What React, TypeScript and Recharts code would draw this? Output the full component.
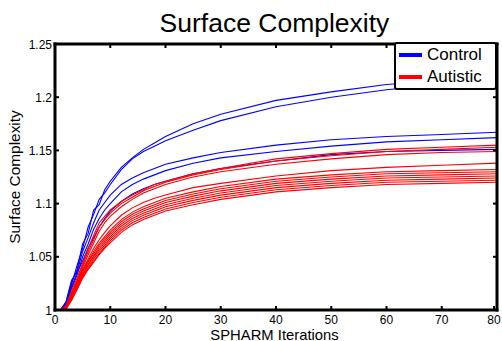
import { Legend, Line, LineChart, XAxis, YAxis } from "recharts";

const iterations = [1, 2, 3, 4, 5, 6, 7, 8, 9, 10, 12, 14, 16, 18, 20, 25, 30, 40, 50, 60, 70, 80];

// control subjects (blue)
const control1 = [1.0, 1.007, 1.026, 1.038, 1.062, 1.072, 1.094, 1.099, 1.113, 1.121, 1.134, 1.143, 1.151, 1.157, 1.163, 1.175, 1.184, 1.197, 1.205, 1.212, 1.216, 1.22];
const control2 = [1.0, 1.006, 1.024, 1.042, 1.058, 1.078, 1.09, 1.104, 1.11, 1.118, 1.132, 1.142, 1.149, 1.154, 1.159, 1.169, 1.178, 1.191, 1.2, 1.207, 1.212, 1.216];
const control3 = [1.0, 1.008, 1.028, 1.036, 1.055, 1.068, 1.082, 1.094, 1.101, 1.108, 1.118, 1.124, 1.129, 1.133, 1.137, 1.143, 1.148, 1.155, 1.16, 1.163, 1.165, 1.167];
const control4 = [1.0, 1.005, 1.02, 1.033, 1.05, 1.062, 1.076, 1.086, 1.094, 1.1, 1.111, 1.118, 1.123, 1.127, 1.131, 1.138, 1.143, 1.149, 1.154, 1.158, 1.16, 1.162];
const control5 = [1.0, 1.006, 1.022, 1.035, 1.046, 1.058, 1.068, 1.078, 1.086, 1.093, 1.102, 1.109, 1.114, 1.118, 1.121, 1.128, 1.133, 1.14, 1.146, 1.149, 1.15, 1.151];

// autistic subjects (red)
const autistic1 = [1.0, 1.004, 1.018, 1.03, 1.044, 1.058, 1.07, 1.082, 1.088, 1.094, 1.102, 1.108, 1.113, 1.118, 1.121, 1.128, 1.133, 1.142, 1.147, 1.151, 1.153, 1.155];
const autistic2 = [1.0, 1.003, 1.016, 1.028, 1.042, 1.055, 1.066, 1.078, 1.085, 1.091, 1.1, 1.106, 1.112, 1.116, 1.12, 1.127, 1.132, 1.14, 1.145, 1.149, 1.151, 1.153];
const autistic3 = [1.0, 1.003, 1.015, 1.026, 1.04, 1.052, 1.063, 1.074, 1.082, 1.088, 1.097, 1.104, 1.11, 1.114, 1.118, 1.125, 1.13, 1.137, 1.142, 1.146, 1.148, 1.149];
const autistic4 = [1.0, 1.003, 1.015, 1.027, 1.038, 1.048, 1.058, 1.066, 1.073, 1.079, 1.089, 1.096, 1.101, 1.105, 1.108, 1.115, 1.119, 1.126, 1.131, 1.134, 1.136, 1.138];
const autistic5 = [1.0, 1.002, 1.014, 1.025, 1.037, 1.046, 1.055, 1.063, 1.069, 1.075, 1.085, 1.092, 1.097, 1.101, 1.105, 1.111, 1.116, 1.123, 1.127, 1.13, 1.131, 1.132];
const autistic6 = [1.0, 1.002, 1.012, 1.024, 1.036, 1.045, 1.053, 1.061, 1.067, 1.073, 1.083, 1.09, 1.095, 1.099, 1.103, 1.109, 1.114, 1.121, 1.125, 1.128, 1.129, 1.13];
const autistic7 = [1.0, 1.002, 1.013, 1.022, 1.034, 1.043, 1.051, 1.059, 1.065, 1.071, 1.081, 1.088, 1.093, 1.097, 1.101, 1.107, 1.112, 1.119, 1.123, 1.126, 1.127, 1.128];
const autistic8 = [1.0, 1.001, 1.011, 1.023, 1.033, 1.042, 1.05, 1.057, 1.063, 1.069, 1.079, 1.086, 1.091, 1.095, 1.099, 1.105, 1.11, 1.117, 1.121, 1.124, 1.125, 1.126];
const autistic9 = [1.0, 1.001, 1.01, 1.021, 1.032, 1.04, 1.048, 1.055, 1.061, 1.067, 1.077, 1.084, 1.089, 1.093, 1.097, 1.103, 1.108, 1.115, 1.119, 1.122, 1.123, 1.124];
const autistic10 = [1.0, 1.002, 1.012, 1.02, 1.031, 1.039, 1.046, 1.053, 1.059, 1.065, 1.075, 1.082, 1.087, 1.091, 1.095, 1.101, 1.106, 1.113, 1.117, 1.12, 1.121, 1.122];
const autistic11 = [1.0, 1.001, 1.009, 1.019, 1.03, 1.038, 1.045, 1.052, 1.058, 1.063, 1.073, 1.08, 1.085, 1.089, 1.093, 1.099, 1.104, 1.111, 1.115, 1.118, 1.119, 1.12];

const controlSeries = [control1, control2, control3, control4, control5];
const autisticSeries = [autistic1, autistic2, autistic3, autistic4, autistic5, autistic6, autistic7, autistic8, autistic9, autistic10, autistic11];

const xTicks = [0, 10, 20, 30, 40, 50, 60, 70, 80];
const yTicks = [1, 1.05, 1.1, 1.15, 1.2, 1.25];

const legendItems = [
  { label: "Control", color: "#0000ff" },
  { label: "Autistic", color: "#ff0000" }
];

const FONT = "'Liberation Sans', Arial, sans-serif";

const rows = iterations.map((x, i) => {
  const row: Record<string, number> = { x };
  controlSeries.forEach((s, k) => (row[`c${k}`] = s[i]));
  autisticSeries.forEach((s, k) => (row[`a${k}`] = s[i]));
  return row;
});

const axisLine = { stroke: "#000", strokeWidth: 3, strokeLinecap: "square" as const };

function BottomTick({ x, y, payload }: any) {
  return (
    <g>
      <line x1={x} x2={x} y1={y} y2={y - 4} stroke="#000" strokeWidth={2} />
      <text x={x} y={y + 13.5} textAnchor="middle" fontSize={12} fontFamily={FONT} fill="#000">
        {payload.value}
      </text>
    </g>
  );
}

function TopTick({ x, y }: any) {
  return <line x1={x} x2={x} y1={y} y2={y + 4} stroke="#000" strokeWidth={2} />;
}

function LeftTick({ x, y, payload }: any) {
  return (
    <g>
      <line x1={x} x2={x + 4} y1={y} y2={y} stroke="#000" strokeWidth={2} />
      <text x={x - 3} y={y + 4.5} textAnchor="end" fontSize={12} fontFamily={FONT} fill="#000">
        {String(payload.value)}
      </text>
    </g>
  );
}

function RightTick({ x, y }: any) {
  return <line x1={x} x2={x - 4} y1={y} y2={y} stroke="#000" strokeWidth={2} />;
}

function LegendBox() {
  return (
    <div
      style={{
        boxSizing: "border-box",
        width: 103,
        height: 48,
        border: "2px solid #000",
        borderRadius: 3,
        background: "#fff",
        fontFamily: FONT,
        fontSize: 17,
        color: "#000"
      }}
    >
      {legendItems.map((item) => (
        <div key={item.label} style={{ height: 22, display: "flex", alignItems: "center" }}>
          <span style={{ display: "inline-block", width: 23, height: 4, marginLeft: 3, marginRight: 5, background: item.color }} />
          <span style={{ lineHeight: "22px" }}>{item.label}</span>
        </div>
      ))}
    </div>
  );
}

export default function App() {
  return (
    <div style={{ position: "absolute", left: 0, top: 0, width: 502, height: 341, background: "#fff" }}>
      <LineChart width={502} height={341} data={rows} margin={{ top: 9, right: 4, bottom: 6, left: 10 }}>
        <XAxis
          dataKey="x"
          type="number"
          domain={[0, 80]}
          ticks={xTicks}
          height={25}
          tickSize={0}
          tickMargin={0}
          tickLine={false}
          axisLine={axisLine}
          tick={<BottomTick />}
          label={{
            content: ({ viewBox }: any) => (
              <text x={viewBox.x + viewBox.width / 2 - 1.5} y={viewBox.y + 29.5} textAnchor="middle" fontSize={14.8} fontFamily={FONT} fill="#000">
                SPHARM Iterations
              </text>
            )
          }}
        />
        <XAxis
          xAxisId="top"
          orientation="top"
          dataKey="x"
          type="number"
          domain={[0, 80]}
          allowDataOverflow
          ticks={xTicks}
          height={35}
          tickSize={0}
          tickMargin={0}
          tickLine={false}
          axisLine={axisLine}
          tick={<TopTick />}
          label={{
            content: ({ viewBox }: any) => (
              <text x={viewBox.x + viewBox.width / 2 - 1.5} y={viewBox.y + viewBox.height - 12} textAnchor="middle" fontSize={26.5} fontFamily={FONT} fill="#000">
                Surface Complexity
              </text>
            )
          }}
        />
        <YAxis
          type="number"
          domain={[1, 1.25]}
          allowDataOverflow
          ticks={yTicks}
          width={45}
          tickSize={0}
          tickMargin={0}
          tickLine={false}
          axisLine={axisLine}
          tick={<LeftTick />}
          label={{
            content: ({ viewBox }: any) => {
              const cx = viewBox.x + viewBox.width - 35.5;
              const cy = viewBox.y + viewBox.height / 2;
              return (
                <text x={cx} y={cy} transform={`rotate(-90 ${cx} ${cy})`} textAnchor="middle" fontSize={15.4} fontFamily={FONT} fill="#000">
                  Surface Complexity
                </text>
              );
            }
          }}
        />
        <YAxis
          yAxisId="right"
          orientation="right"
          type="number"
          domain={[1, 1.25]}
          allowDataOverflow
          ticks={yTicks}
          width={1}
          tickSize={0}
          tickMargin={0}
          tickLine={false}
          axisLine={axisLine}
          tick={<RightTick />}
        />
        {controlSeries.map((_, k) => (
          <Line key={`c${k}`} dataKey={`c${k}`} type="linear" stroke="#0000ff" strokeWidth={1.1} dot={false} activeDot={false} isAnimationActive={false} />
        ))}
        {autisticSeries.map((_, k) => (
          <Line key={`a${k}`} dataKey={`a${k}`} type="linear" stroke="#ff0000" strokeWidth={1.1} dot={false} activeDot={false} isAnimationActive={false} />
        ))}
        <Legend
          layout="horizontal"
          align="center"
          verticalAlign="middle"
          wrapperStyle={{ left: 394, top: 42, width: 103, height: 48 }}
          content={() => <LegendBox />}
        />
      </LineChart>
    </div>
  );
}
